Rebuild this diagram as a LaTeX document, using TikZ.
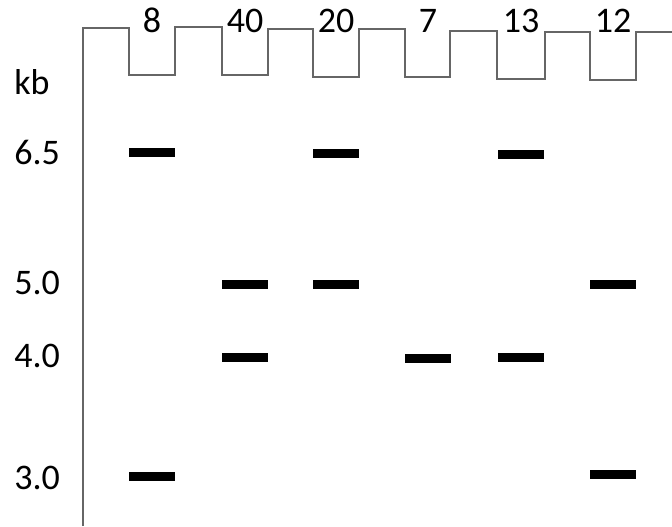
\documentclass[tikz,border=0pt]{standalone}
\usepackage{fontspec}
\setmainfont{Carlito}
\tikzset{lbl/.style={font=\fontsize{27}{32}\selectfont,inner sep=0pt},
 band/.style={fill=black,minimum width=34.5pt,minimum height=6.75pt,inner sep=0pt},
 gel/.style={draw=black!60,line width=0.9pt}}
\begin{document}
\begin{tikzpicture}[x=0.75pt,y=-0.75pt]
\useasboundingbox (0,0) rectangle (672,526);
% gel outline with wells
\draw[gel] (83,526) -- (83,28) -- (129,28) -- (129,75) -- (175,75) -- (175,27) -- (222,27) -- (222,75) -- (268,75) -- (268,29) -- (313,29) -- (313,77) -- (359,77) -- (359,29) -- (405,29) -- (405,77) -- (450,77) -- (450,31) -- (497,31) -- (497,79) -- (545,79) -- (545,32) -- (590,32) -- (590,80) -- (636,80) -- (636,32) -- (672,32);
% lane labels
\foreach \x/\t [count=\i] in {152/8,245/40,336/20,428/7,521/13,613/12}
 \node[lbl,anchor=base] (lane\i) at (\x,32) {\t};
% size scale
\node[lbl,anchor=base west] (kb) at (14,94) {kb};
\node[lbl,anchor=base west] (s65) at (14,164) {6.5};
\node[lbl,anchor=base west] (s50) at (14,294) {5.0};
\node[lbl,anchor=base west] (s40) at (14,367) {4.0};
\node[lbl,anchor=base west] (s30) at (14,489) {3.0};
% bands
\foreach \x/\y [count=\i] in {152/152.5,152/476,245/284,245/357,336/153,336/284,428/358,521/154.5,521/357,613/284,613/474}
 \node[band] (b\i) at (\x,\y) {};
\end{tikzpicture}
\end{document}
